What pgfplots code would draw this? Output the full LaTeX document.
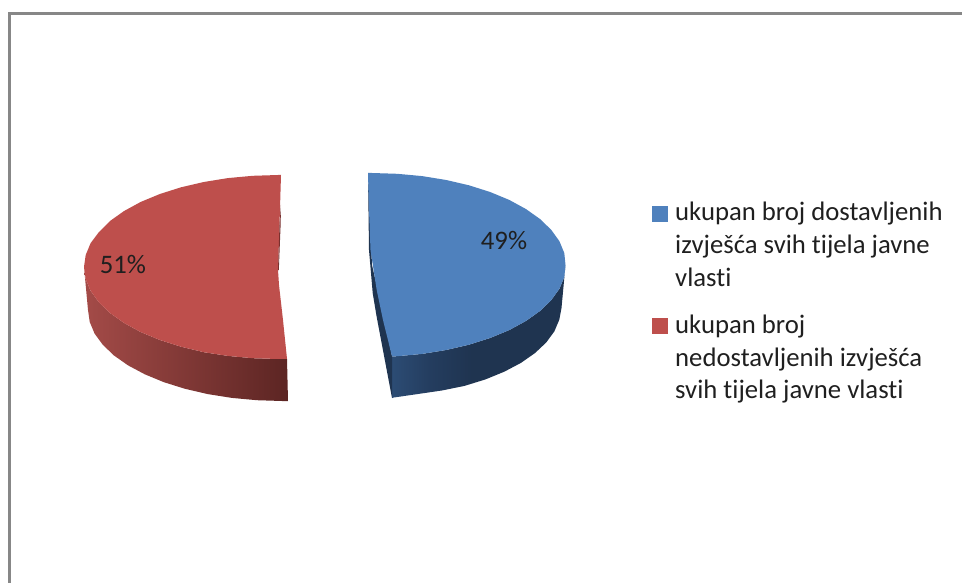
\documentclass[border=0pt]{standalone}
\usepackage{pgfplots}
\pgfplotsset{compat=1.18}
\usepackage{fontspec}
\setmainfont{Carlito}[Ligatures=NoCommon]
\definecolor{pblue}{HTML}{4F81BD}
\definecolor{pred}{HTML}{BE4F4C}
\definecolor{bdark}{HTML}{1F3450}
\definecolor{bside}{HTML}{2C4C74}
\definecolor{bmid}{HTML}{243D5F}
\definecolor{rA}{HTML}{A44B48}
\definecolor{rB}{HTML}{8A3836}
\definecolor{rC}{HTML}{5C2523}
\definecolor{rdark}{HTML}{7A302E}
\pgfdeclarehorizontalshading{bluegrad}{100bp}{color(0bp)=(bside); color(25bp)=(bside); color(36bp)=(bmid); color(48bp)=(bdark); color(100bp)=(bdark)}
\begin{document}
\begin{tikzpicture}
\path[use as bounding box] (0,0) rectangle (962pt,583pt);
\begin{axis}[
  at={(0,0)}, anchor=south west,
  scale only axis, width=962pt, height=583pt,
  xmin=0, xmax=962, ymin=0, ymax=583, y dir=reverse,
  hide axis,
]
% frame
\addplot[draw=black!47, line width=2.6pt, no marks] coordinates {(9.3,583) (9.3,13.5) (962,13.5)};
% red side
\addplot[draw=none, no marks, left color=rA, middle color=rB, right color=rC] coordinates {
(84,267)(85.7,279)(90.6,290.8)(98.8,302.2)(110,313)(124.1,323)(140.8,332.1)(159.9,340)(181,346.7)(203.8,352.2)(227.8,355.9)(252.7,358.2)(278,359)(287,358.8)
(288,401)(282,401)(256.7,400.2)(231.8,397.9)(207.8,394.1)(185,388.8)(163.9,382.2)(144.8,374.3)(128.1,365.4)(114,355.5)(102.8,344.8)(94.6,333.6)(89.7,321.9)(88,310)
} -- cycle;
% red top
\addplot[draw=none, fill=pred, no marks] coordinates {
(281,175)(278,175)(252.7,175.8)(227.8,178.1)(203.8,182)(181,187.3)(159.9,194)(140.8,201.9)(124.1,211)(110,221)(98.8,232.2)(90.6,243.2)(85.7,255)(84,267)
(85.7,279)(90.6,290.8)(98.8,302.2)(110,313)(124.1,323)(140.8,332.1)(159.9,340)(181,346.7)(203.8,352.2)(227.8,355.9)(252.7,358.2)(278,359)(287,358.8)
(283,320)(279,285)(278,270)(279.5,225)
} -- cycle;
% red inner sliver
\addplot[draw=none, fill=rdark, no marks] coordinates {(281,205)(279.5,225)(278,270)(278.8,270)(280.6,225)} -- cycle;
% blue side
\addplot[draw=none, no marks, shading=bluegrad] coordinates {
(565.5,265)(564.3,277)(559.4,288.8)(551.2,300.2)(540,311)(525.9,321)(509.2,330.1)(490.1,338)(469,344.7)(446.2,350)(422.2,353.9)(397.3,356.2)(392,356.4)
(392,398)(393.2,397.6)(418,394)(441.9,390.5)(464.5,385.9)(485.5,379.4)(504.5,371.6)(521.1,362.8)(535.1,353)(546.3,342.4)(554.4,331.3)(559.3,319.7)(561.5,308)
} -- cycle;
% blue inner wedge
\addplot[draw=none, fill=bdark, no marks] coordinates {(368,173)(369,250)(372.7,293)(376.7,317)(392,398)(392,356)(380,300)(372,265)} -- cycle;
% blue top
\addplot[draw=none, fill=pblue, no marks] coordinates {
(368,173)(372,173)(397.3,173.8)(422.2,176.1)(446.2,180)(469,185.3)(490.1,192)(509.2,199.9)(525.9,209)(540,219)(551.2,229.8)(559.4,241.2)(564.3,253)(565.5,265)
(564.3,277)(559.4,288.8)(551.2,300.2)(540,311)(525.9,321)(509.2,330.1)(490.1,338)(469,344.7)(446.2,350)(422.2,353.9)(397.3,356.2)(392,356.4)
(383,320)(376.7,290)(370.5,250)(369,210)
} -- cycle;
% legend keys
\addplot[only marks, mark=square*, mark size=7.5pt, mark options={fill=pblue, draw=pblue}] coordinates {(660,213.5)};
\addplot[only marks, mark=square*, mark size=7.5pt, mark options={fill=pred, draw=pred}] coordinates {(660,325.5)};
% labels
\node[font=\fontsize{26.7}{30}\selectfont, text=black!88] at (axis cs:123,265) {51\%};
\node[font=\fontsize{26.7}{30}\selectfont, text=black!88] at (axis cs:504,241) {49\%};
\tikzset{lg/.style={anchor=base west, inner sep=0pt, font=\fontsize{26.7}{30}\selectfont, text=black!88}}
\node[lg] at (axis cs:675,221) {ukupan broj dostavljenih};
\node[lg] at (axis cs:675,253) {izvješća svih tijela javne};
\node[lg] at (axis cs:675,286) {vlasti};
\node[lg] at (axis cs:675,333) {ukupan broj};
\node[lg] at (axis cs:675,366) {nedostavljenih izvješća};
\node[lg] at (axis cs:675,398) {svih tijela javne vlasti};
\end{axis}
\end{tikzpicture}
\end{document}
